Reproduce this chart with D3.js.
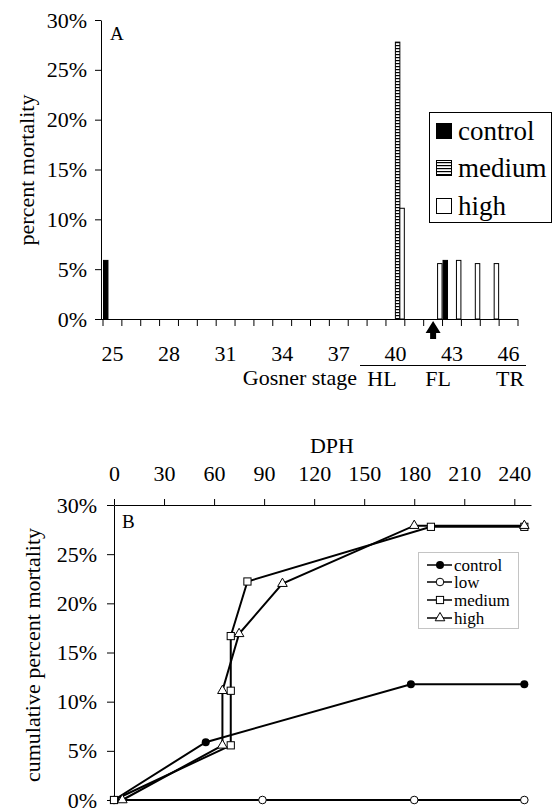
<!DOCTYPE html>
<html><head><meta charset="utf-8">
<script src="https://cdn.jsdelivr.net/npm/d3@7"></script>
<style>
html,body{margin:0;padding:0;background:#fff;}
svg{display:block;}
svg text{font-family:"Liberation Serif","Times New Roman",Times,serif !important;fill:#000;}
</style></head>
<body>
<svg id="c" width="552" height="808"></svg>
<script>
// ---------- Panel A data ----------
const stages = [25,26,27,28,29,30,31,32,33,34,35,36,37,38,39,40,41,42,43,44,45,46];
const stageTickLabels = [25,28,31,34,37,40,43,46];
const seriesA = ["control","low","medium","high"];
const controlA = [5.88,0,0,0,0,0,0,0,0,0,0,0,0,0,0,0,0,0,5.88,0,0,0];
const lowA     = [0,0,0,0,0,0,0,0,0,0,0,0,0,0,0,0,0,0,0,0,0,0];
const mediumA  = [0,0,0,0,0,0,0,0,0,0,0,0,0,0,0,27.78,0,0,0,0,0,0];
const highA    = [0,0,0,0,0,0,0,0,0,0,0,0,0,0,0,11.11,0,5.56,5.88,5.56,5.56,0];
const yTicksA = [0,5,10,15,20,25,30];
const stageGroups = ["HL","FL","TR"];
const arrowStage = 42;

// ---------- Panel B data ----------
const dphTicks = [0,30,60,90,120,150,180,210,240];
const yTicksB = [0,5,10,15,20,25,30];
const controlX = [0,55,178,246];
const controlY = [0,5.88,11.76,11.76];
const lowX = [0,89,180,246];
const lowY = [0,0,0,0];
const mediumX = [0,70,70,70,80,190,246];
const mediumY = [0,5.56,11.11,16.67,22.22,27.78,27.78];
const highX = [5,65,65,75,101,180,246];
const highY = [0,5.56,11.11,16.9,22.0,27.9,27.9];

const svg = d3.select("#c");
const pct = d => d + "%";

// ===== Panel A =====
const gA = svg.append("g");
const xA = d3.scaleBand().domain(stages).range([103, 518]).padding(0);
const xSub = d3.scaleBand().domain(seriesA).range([0.5, xA.bandwidth()-0.5]).padding(0);
const yA = d3.scaleLinear().domain([0,30]).range([319,20]);

const defs = svg.append("defs");
const pat = defs.append("pattern").attr("id","hatch").attr("patternUnits","userSpaceOnUse")
  .attr("width",4).attr("height",3);
pat.append("rect").attr("width",4).attr("height",3).attr("fill","#fff");
pat.append("rect").attr("y",0).attr("width",4).attr("height",1.2).attr("fill","#000");

const yAxA = gA.append("g").attr("transform","translate(101,0)")
  .call(d3.axisLeft(yA).tickValues(yTicksA).tickFormat(pct).tickSize(6).tickSizeOuter(0).tickPadding(8));
yAxA.selectAll("text").attr("font-size",22);
yAxA.select(".domain").attr("stroke","#000");

const bounds = stages.map(s => xA(s)).concat([xA(stages[stages.length-1]) + xA.bandwidth()]);
gA.append("line").attr("x1",101).attr("x2",518).attr("y1",319.5).attr("y2",319.5).attr("stroke","#000");
gA.selectAll(".btick").data(bounds).join("line").attr("class","btick")
  .attr("x1",d=>d).attr("x2",d=>d).attr("y1",319.5).attr("y2",326).attr("stroke","#000");
gA.selectAll(".blab").data(stageTickLabels).join("text").attr("class","blab")
  .attr("x",d=>xA(d)+xA.bandwidth()/2).attr("y",361).attr("text-anchor","middle")
  .attr("font-size",22).text(d=>d);

const fills = {control:"#000", low:"#fff", medium:"url(#hatch)", high:"#fff"};
const valsA = {control:controlA, low:lowA, medium:mediumA, high:highA};
seriesA.forEach(s => {
  const data = stages.map((st,i)=>({st, v:valsA[s][i]})).filter(d=>d.v>0);
  gA.selectAll(".bar-"+s).data(data).join("rect").attr("class","bar-"+s)
    .attr("x",d=>xA(d.st)+xSub(s)).attr("width",xSub.bandwidth())
    .attr("y",d=>yA(d.v)).attr("height",d=>yA(0)-yA(d.v))
    .attr("fill",fills[s]).attr("stroke","#000").attr("stroke-width",1);
});

gA.append("text").attr("x",110).attr("y",40).attr("font-size",19).text("A");

gA.append("text").attr("transform","translate(34,170) rotate(-90)").attr("text-anchor","middle")
  .attr("font-size",22).text("percent mortality");

gA.append("text").attr("x",357).attr("y",385).attr("text-anchor","end").attr("font-size",22).text("Gosner stage");
gA.append("line").attr("x1",360).attr("x2",526).attr("y1",365.5).attr("y2",365.5).attr("stroke","#000").attr("stroke-width",1.2);
const grpX = [382,438,510];
gA.selectAll(".grp").data(stageGroups).join("text").attr("class","grp")
  .attr("x",(d,i)=>grpX[i]).attr("y",386).attr("text-anchor","middle").attr("font-size",22).text(d=>d);

const ax = xA(arrowStage)+xA.bandwidth()/2;
gA.append("path").attr("d",`M${ax},321 L${ax+7.5},333 L${ax+3},333 L${ax+3},339 L${ax-3},339 L${ax-3},333 L${ax-7.5},333 Z`).attr("fill","#000");

const legA = gA.append("g");
legA.append("rect").attr("x",429.5).attr("y",112.5).attr("width",122).attr("height",110)
  .attr("fill","#fff").attr("stroke","#000");
const legItemsA = [["control",131],["medium",168],["high",206]];
legItemsA.forEach(([s,y])=>{
  legA.append("rect").attr("x",436.5).attr("y",y-7.5).attr("width",15).attr("height",15)
    .attr("fill",fills[s]).attr("stroke","#000");
  legA.append("text").attr("x",458).attr("y",y+9).attr("font-size",27).text(s);
});

// ===== Panel B =====
const gB = svg.append("g");
const xB = d3.scaleLinear().domain([0,250]).range([114,531]);
const yB = d3.scaleLinear().domain([0,30]).range([800,505]);

const xAxB = gB.append("g").attr("transform","translate(0,505)")
  .call(d3.axisTop(xB).tickValues(dphTicks).tickSize(6).tickSizeOuter(0).tickPadding(18));
xAxB.selectAll("text").attr("font-size",22);
gB.append("text").attr("x",332).attr("y",453).attr("text-anchor","middle").attr("font-size",22).text("DPH");

const yAxB = gB.append("g").attr("transform","translate(114,0)")
  .call(d3.axisLeft(yB).tickValues(yTicksB).tickFormat(pct).tickSize(7).tickSizeOuter(0).tickPadding(10));
yAxB.selectAll("text").attr("font-size",22);

gB.append("text").attr("x",122).attr("y",528).attr("font-size",19).text("B");
gB.append("text").attr("transform","translate(40,655) rotate(-90)").attr("text-anchor","middle")
  .attr("font-size",22).text("cumulative percent mortality");

const seriesB = [
  {name:"low", x:lowX, y:lowY, marker:"circleOpen"},
  {name:"control", x:controlX, y:controlY, marker:"circleFilled"},
  {name:"medium", x:mediumX, y:mediumY, marker:"square"},
  {name:"high", x:highX, y:highY, marker:"triangle"}
];
const line = d3.line().x(d=>xB(d[0])).y(d=>yB(d[1]));
function drawMarker(g, type, x, y){
  if(type==="circleFilled") g.append("circle").attr("cx",x).attr("cy",y).attr("r",4).attr("fill","#000");
  else if(type==="circleOpen") g.append("circle").attr("cx",x).attr("cy",y).attr("r",3.8).attr("fill","#fff").attr("stroke","#000").attr("stroke-width",1);
  else if(type==="square") g.append("rect").attr("x",x-3.6).attr("y",y-3.6).attr("width",7.2).attr("height",7.2).attr("fill","#fff").attr("stroke","#000").attr("stroke-width",1);
  else if(type==="triangle") g.append("path").attr("transform",`translate(${x},${y})`)
    .attr("d",d3.symbol(d3.symbolTriangle,40)()).attr("fill","#fff").attr("stroke","#000").attr("stroke-width",1);
}
seriesB.forEach(s=>{
  const pts = s.x.map((v,i)=>[v,s.y[i]]);
  gB.append("path").attr("d",line(pts)).attr("fill","none").attr("stroke","#000").attr("stroke-width",2);
});
seriesB.forEach(s=>{
  s.x.forEach((v,i)=>drawMarker(gB, s.marker, xB(v), yB(s.y[i])));
});

const legB = gB.append("g");
legB.append("rect").attr("x",418.5).attr("y",552.5).attr("width",100).attr("height",76)
  .attr("fill","#fff").attr("stroke","#888").attr("stroke-dasharray","1,1");
const legItemsB = [["control","circleFilled",565],["low","circleOpen",582],["medium","square",600],["high","triangle",618]];
legItemsB.forEach(([n,m,y])=>{
  legB.append("line").attr("x1",427).attr("x2",452).attr("y1",y).attr("y2",y).attr("stroke","#000").attr("stroke-width",1.5);
  drawMarker(legB, m, 440, y);
  legB.append("text").attr("x",454).attr("y",y+5.5).attr("font-size",17).text(n);
});
</script>
</body></html>
